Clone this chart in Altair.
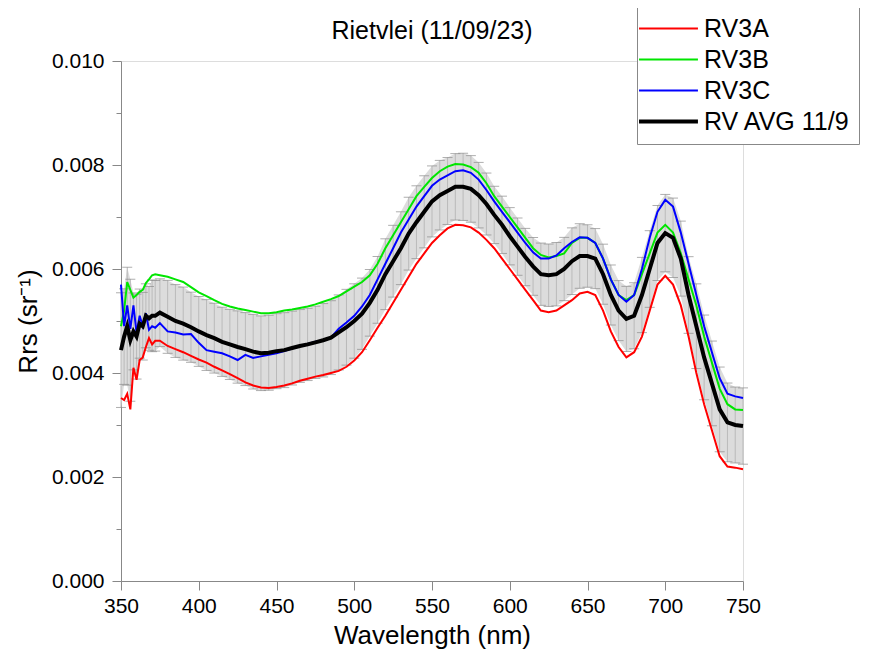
import altair as alt
import pandas as pd
import numpy as np

wavelength = [350, 352, 354, 356, 358, 360, 362, 364, 366, 368, 370, 372, 375, 380, 385, 390, 395,
              400, 405, 410, 415, 420, 425, 430, 435, 440, 445, 450, 455, 460, 465, 470, 475, 480,
              485, 490, 495, 500, 505, 510, 515, 520, 525, 530, 535, 540, 545, 550, 555, 560, 565,
              570, 575, 580, 585, 590, 595, 600, 605, 610, 615, 620, 625, 630, 635, 640, 645, 650,
              655, 660, 665, 670, 675, 680, 685, 690, 695, 700, 705, 710, 715, 720, 725, 730, 735,
              740, 745, 750]

rv3a = [0.00352, 0.00348, 0.00360, 0.00330, 0.00410, 0.00387, 0.00425, 0.00430, 0.00450, 0.00467,
        0.00455, 0.00462, 0.00462, 0.00452, 0.00446, 0.00440, 0.00433, 0.00426, 0.00420, 0.00412,
        0.00405, 0.00398, 0.00390, 0.00382, 0.00376, 0.00372, 0.00371, 0.00373, 0.00376, 0.00380,
        0.00385, 0.00389, 0.00393, 0.00396, 0.00400, 0.00404, 0.00412, 0.00424, 0.00440, 0.00463,
        0.00487, 0.00510, 0.00535, 0.00560, 0.00585, 0.00610, 0.00630, 0.00650, 0.00665, 0.00678,
        0.00685, 0.00684, 0.00680, 0.00670, 0.00656, 0.00640, 0.00620, 0.00600, 0.00580, 0.00560,
        0.00540, 0.00520, 0.00517, 0.00520, 0.00530, 0.00540, 0.00553, 0.00556, 0.00550, 0.00520,
        0.00480, 0.00450, 0.00430, 0.00440, 0.00470, 0.00520, 0.00570, 0.00587, 0.00570, 0.00530,
        0.00470, 0.00400, 0.00340, 0.00290, 0.00240, 0.00220, 0.00218, 0.00215]

rv3b = [0.00490, 0.00520, 0.00575, 0.00560, 0.00545, 0.00550, 0.00556, 0.00560, 0.00573, 0.00580,
        0.00588, 0.00590, 0.00588, 0.00585, 0.00580, 0.00575, 0.00565, 0.00555, 0.00548, 0.00540,
        0.00533, 0.00528, 0.00524, 0.00521, 0.00518, 0.00515, 0.00515, 0.00517, 0.00520, 0.00522,
        0.00525, 0.00528, 0.00532, 0.00537, 0.00542, 0.00548, 0.00557, 0.00566, 0.00575, 0.00588,
        0.00610, 0.00640, 0.00665, 0.00690, 0.00715, 0.00740, 0.00758, 0.00775, 0.00788, 0.00797,
        0.00802, 0.00801, 0.00796, 0.00785, 0.00765, 0.00740, 0.00720, 0.00700, 0.00680, 0.00660,
        0.00640, 0.00627, 0.00622, 0.00625, 0.00630, 0.00650, 0.00660, 0.00660, 0.00650, 0.00620,
        0.00580, 0.00550, 0.00540, 0.00550, 0.00590, 0.00630, 0.00670, 0.00685, 0.00670, 0.00630,
        0.00580, 0.00530, 0.00470, 0.00420, 0.00370, 0.00340, 0.00330, 0.00329]

rv3c = [0.00570, 0.00490, 0.00530, 0.00485, 0.00530, 0.00477, 0.00510, 0.00490, 0.00515, 0.00483,
        0.00490, 0.00487, 0.00496, 0.00480, 0.00478, 0.00474, 0.00475, 0.00458, 0.00444, 0.00441,
        0.00438, 0.00432, 0.00425, 0.00435, 0.00429, 0.00432, 0.00435, 0.00438, 0.00442, 0.00447,
        0.00452, 0.00456, 0.00460, 0.00462, 0.00468, 0.00485, 0.00497, 0.00510, 0.00528, 0.00550,
        0.00580, 0.00610, 0.00640, 0.00670, 0.00695, 0.00720, 0.00740, 0.00760, 0.00772, 0.00780,
        0.00788, 0.00790, 0.00785, 0.00772, 0.00752, 0.00730, 0.00710, 0.00690, 0.00670, 0.00650,
        0.00632, 0.00620, 0.00620, 0.00626, 0.00640, 0.00652, 0.00661, 0.00660, 0.00650, 0.00620,
        0.00580, 0.00550, 0.00537, 0.00550, 0.00600, 0.00660, 0.00710, 0.00733, 0.00720, 0.00670,
        0.00610, 0.00550, 0.00490, 0.00440, 0.00390, 0.00360, 0.00355, 0.00352]

rv_avg = [0.00444, 0.00470, 0.00490, 0.00463, 0.00480, 0.00470, 0.00495, 0.00490, 0.00510, 0.00505,
          0.00510, 0.00510, 0.00516, 0.00508, 0.00500, 0.00495, 0.00488, 0.00480, 0.00473, 0.00467,
          0.00460, 0.00455, 0.00450, 0.00446, 0.00441, 0.00438, 0.00439, 0.00442, 0.00444, 0.00448,
          0.00452, 0.00455, 0.00459, 0.00463, 0.00468, 0.00478, 0.00488, 0.00500, 0.00514, 0.00535,
          0.00560, 0.00590, 0.00615, 0.00640, 0.00668, 0.00690, 0.00710, 0.00730, 0.00742, 0.00750,
          0.00758, 0.00758, 0.00754, 0.00742, 0.00725, 0.00704, 0.00685, 0.00663, 0.00643, 0.00623,
          0.00605, 0.00590, 0.00588, 0.00590, 0.00600, 0.00615, 0.00625, 0.00625, 0.00620, 0.00590,
          0.00550, 0.00520, 0.00504, 0.00510, 0.00550, 0.00600, 0.00650, 0.00669, 0.00660, 0.00620,
          0.00550, 0.00490, 0.00430, 0.00380, 0.00330, 0.00305, 0.00300, 0.00298]

series_names = ["RV3A", "RV3B", "RV3C", "RV AVG 11/9"]
series_colors = ["#ff0000", "#00e600", "#0000ff", "#000000"]
series_widths = [2, 2, 2, 4]
x_ticks = list(range(350, 751, 25))
y_ticks = [round(i * 0.001, 3) for i in range(0, 11)]

FONT = "Liberation Sans"

# long table for lines
rows = []
for name, vals in zip(series_names, [rv3a, rv3b, rv3c, rv_avg]):
    for w, v in zip(wavelength, vals):
        rows.append({"wl": w, "rrs": v, "series": name})
lines_df = pd.DataFrame(rows)

# error bars: average +/- sample standard deviation of the three replicates
sd = np.std(np.array([rv3a, rv3b, rv3c]), axis=0, ddof=1)
err_df = pd.DataFrame({"wl": wavelength,
                       "lo": np.array(rv_avg) - sd,
                       "hi": np.array(rv_avg) + sd})

xscale = alt.Scale(domain=[350, 750], nice=False, zero=False)
yscale = alt.Scale(domain=[0, 0.010], nice=False)

x_axis = alt.Axis(
    values=x_ticks, title="Wavelength (nm)",
    labelExpr="datum.value % 50 == 0 ? datum.label : ''",
    tickSize={"condition": {"test": "datum.value % 50 != 0", "value": 5}, "value": 9},
    labelFlush=False, labelOverlap=False, grid=False,
    labelFontSize=21, titleFontSize=26, titleFontWeight="normal", labelPadding=5, titlePadding=6,
)
y_axis = alt.Axis(
    values=y_ticks, title="Rrs (sr\u207b\u00b9)",
    labelExpr="round(datum.value * 1000) % 2 == 0 ? format(datum.value, '.3f') : ''",
    tickSize={"condition": {"test": "round(datum.value * 1000) % 2 != 0", "value": 5}, "value": 9},
    labelFlush=False, labelOverlap=False, grid=False,
    labelFontSize=21, titleFontSize=26, titleFontWeight="normal", labelPadding=8, titlePadding=10,
)

X = alt.X("wl:Q", scale=xscale, axis=x_axis)

band = alt.Chart(err_df).mark_area(color="#dcdcdc").encode(
    x=X, y=alt.Y("lo:Q", scale=yscale, axis=y_axis), y2="hi:Q")
rules = alt.Chart(err_df).mark_rule(color="#bababa", strokeWidth=1).encode(
    x="wl:Q", y="lo:Q", y2="hi:Q")
cap_hi = alt.Chart(err_df).mark_tick(orient="horizontal", color="#8c8c8c", size=10, thickness=1).encode(
    x="wl:Q", y="hi:Q")
cap_lo = alt.Chart(err_df).mark_tick(orient="horizontal", color="#8c8c8c", size=10, thickness=1).encode(
    x="wl:Q", y="lo:Q")

legend = alt.Legend(
    title=None, orient="none", legendX=516, legendY=-54,
    symbolType="M-1.98,0H4.01", symbolSize=387, labelFontSize=25, labelFont=FONT,
    labelColor="black", labelOffset=33, labelLimit=0,
    strokeColor="#888888", fillColor="white", padding=9, rowPadding=5,
)

lines = alt.Chart(lines_df).mark_line(interpolate="linear").encode(
    x="wl:Q",
    y="rrs:Q",
    color=alt.Color("series:N", scale=alt.Scale(domain=series_names, range=series_colors),
                    sort=series_names, legend=legend),
    strokeWidth=alt.StrokeWidth("series:N",
                                scale=alt.Scale(type="ordinal", domain=series_names, range=series_widths),
                                sort=series_names, legend=legend),
)

chart = alt.layer(band, rules, cap_hi, cap_lo, lines).properties(
    width=622, height=520,
    title=alt.TitleParams("Rietvlei (11/09/23)", fontSize=25, font=FONT, fontWeight="normal",
                          anchor="middle", frame="group", baseline="alphabetic", offset=-57, color="black"),
    autosize=alt.AutoSizeParams(type="none"),
    padding={"left": 113, "top": 53, "right": 118, "bottom": 80},
).configure_view(stroke=None).configure_axis(
    labelFont=FONT, titleFont=FONT, titleFontWeight="normal", labelColor="black", titleColor="black",
    domainColor="black", domainWidth=1.5, tickColor="black", tickWidth=1.5,
).configure(background="white")

chart.save("out.html", embed_options={"renderer": "svg", "actions": False})
